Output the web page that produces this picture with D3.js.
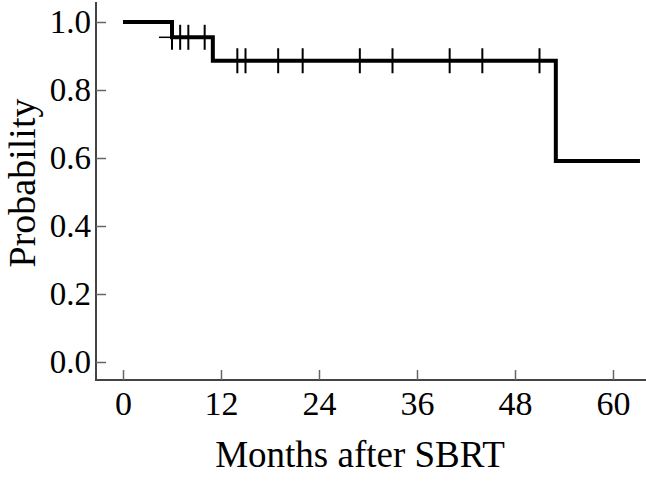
<!DOCTYPE html>
<html>
<head>
<meta charset="utf-8">
<script src="https://cdn.jsdelivr.net/npm/d3@7/dist/d3.min.js"></script>
<style>
  body { margin: 0; background: #fff; }
  text { font-family: "Liberation Serif", "Times New Roman", serif; fill: #000; }
</style>
</head>
<body>
<svg id="chart" width="646" height="491"></svg>
<script>
// survival steps (months, probability)
var stepTimes = [0, 6, 11, 53, 63.3];
var stepProbs = [1.0, 0.955, 0.886, 0.591, 0.591];
// censored observations (months)
var censorTimes = [6, 7, 8, 10, 14, 15, 19, 22, 29, 33, 40, 44, 51];
var xTicks = [0, 12, 24, 36, 48, 60];
var yTicks = [0, 0.2, 0.4, 0.6, 0.8, 1.0];

var svg = d3.select("#chart");

var x = d3.scaleLinear().domain([0, 60]).range([123, 613]);
var y = d3.scaleLinear().domain([0, 1]).range([362, 22]);

var axisX = 96, axisY = 380;

// axis lines
svg.append("line")
  .attr("x1", axisX).attr("x2", axisX)
  .attr("y1", 2).attr("y2", axisY)
  .attr("stroke", "#444").attr("stroke-width", 2);
svg.append("line")
  .attr("x1", axisX - 1).attr("x2", 646)
  .attr("y1", axisY).attr("y2", axisY)
  .attr("stroke", "#444").attr("stroke-width", 2);

// y axis ticks, pointing inward
var gy = svg.append("g")
  .attr("transform", "translate(" + axisX + ",0)")
  .call(d3.axisLeft(y).tickValues(yTicks).tickSize(-10).tickPadding(5)
    .tickFormat(d3.format(".1f")));
gy.select(".domain").remove();
gy.selectAll(".tick line").attr("stroke", "#666").attr("stroke-width", 1.5);
gy.selectAll(".tick text")
  .style("font-family", "Liberation Serif")
  .style("font-size", "33px")
  .attr("fill", "#000");

// x axis ticks, pointing inward
var gx = svg.append("g")
  .attr("transform", "translate(0," + axisY + ")")
  .call(d3.axisBottom(x).tickValues(xTicks).tickSize(-10).tickPadding(11));
gx.select(".domain").remove();
gx.selectAll(".tick line").attr("stroke", "#666").attr("stroke-width", 1.5);
gx.selectAll(".tick text")
  .style("font-family", "Liberation Serif")
  .style("font-size", "34px")
  .attr("fill", "#000");

// survival curve
var pts = stepTimes.map(function(t, i) { return [t, stepProbs[i]]; });
var line = d3.line()
  .x(function(d) { return x(d[0]); })
  .y(function(d) { return y(d[1]); })
  .curve(d3.curveStepAfter);

svg.append("path")
  .datum(pts)
  .attr("d", line)
  .attr("fill", "none")
  .attr("stroke", "#000")
  .attr("stroke-width", 4)
  .attr("stroke-linejoin", "miter");

// probability at time t
function survAt(t) {
  var p = stepProbs[0];
  for (var i = 0; i < stepTimes.length; i++) {
    if (stepTimes[i] <= t) p = stepProbs[i];
  }
  return p;
}

// censor marks
svg.selectAll(".censor")
  .data(censorTimes)
  .enter().append("line")
  .attr("class", "censor")
  .attr("x1", function(d) { return x(d); })
  .attr("x2", function(d) { return x(d); })
  .attr("y1", function(d) { return y(survAt(d)) - 12.5; })
  .attr("y2", function(d) { return y(survAt(d)) + 12.5; })
  .attr("stroke", "#000")
  .attr("stroke-width", 2);

// short horizontal arm of the first censor mark
svg.append("line")
  .attr("x1", x(censorTimes[0]) - 13).attr("x2", x(censorTimes[0]))
  .attr("y1", y(survAt(censorTimes[0]))).attr("y2", y(survAt(censorTimes[0])))
  .attr("stroke", "#000")
  .attr("stroke-width", 1.5);

// axis titles
svg.append("text")
  .attr("x", 360).attr("y", 467)
  .attr("text-anchor", "middle")
  .style("font-size", "37px")
  .text("Months after SBRT");

svg.append("text")
  .attr("transform", "translate(35,183) rotate(-90)")
  .attr("text-anchor", "middle")
  .style("font-size", "38px")
  .text("Probability");
</script>
</body>
</html>
